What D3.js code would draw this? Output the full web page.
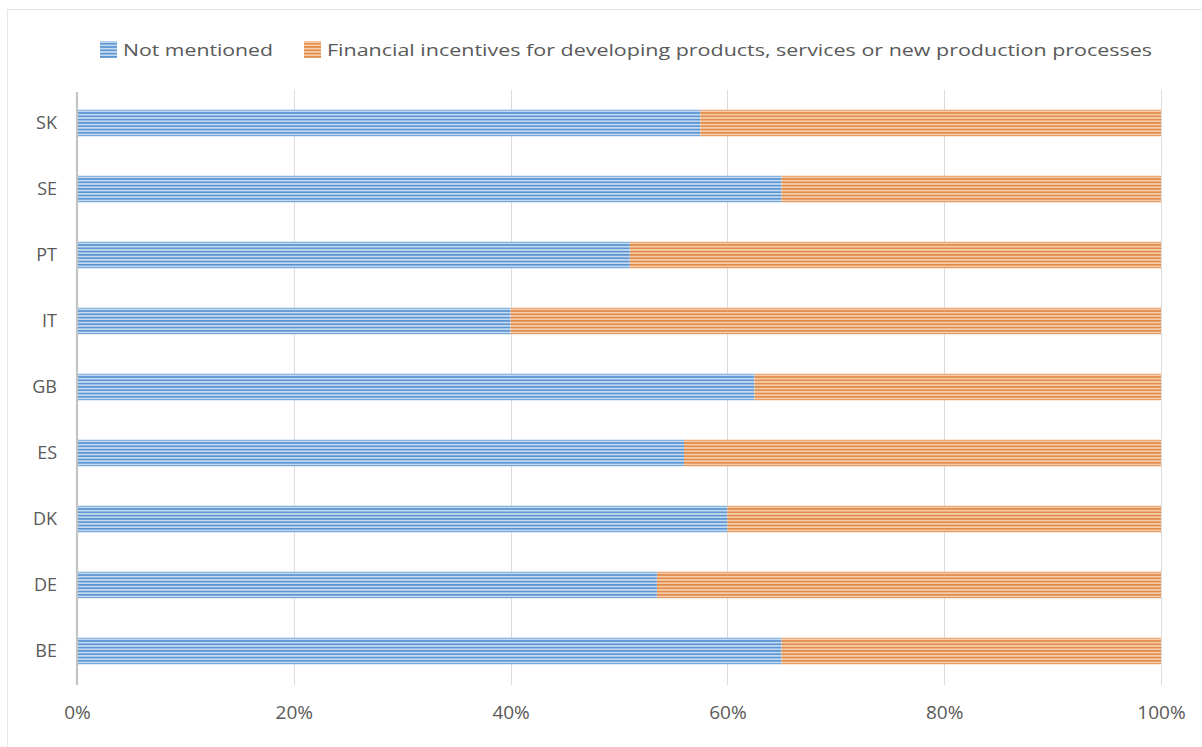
<!DOCTYPE html>
<html>
<head>
<meta charset="utf-8">
<script src="https://cdn.jsdelivr.net/npm/d3@7/dist/d3.min.js"></script>
<style>
  html, body { margin: 0; padding: 0; background: #fff; }
  svg { display: block; font-family: "Open Sans", "Noto Sans", sans-serif; }
</style>
</head>
<body>
<svg id="chart" width="1202" height="747"></svg>
<script>
// Country codes, top to bottom
const categories = ["SK", "SE", "PT", "IT", "GB", "ES", "DK", "DE", "BE"];
// Share of responses (%) per country
const notMentioned = [57.5, 65, 51, 40, 62.5, 56, 60, 53.5, 65];
const financialIncentives = [42.5, 35, 49, 60, 37.5, 44, 40, 46.5, 35];
const seriesNames = ["Not mentioned", "Financial incentives for developing products, services or new production processes"];
const tickValues = [0, 20, 40, 60, 80, 100];

const svg = d3.select("#chart");
const margin = { left: 77, right: 41, top: 90, bottom: 63 };
const W = 1202, H = 747;
const FONT = "'Open Sans', 'Noto Sans', sans-serif";

// Outer chart frame
svg.append("rect").attr("x", 7.5).attr("y", 9.5).attr("width", W).attr("height", H)
  .attr("fill", "#fff").attr("stroke", "#e6e6e6");

// Striped fills
const defs = svg.append("defs");
function stripes(id, light, dark) {
  const p = defs.append("pattern").attr("id", id).attr("patternUnits", "userSpaceOnUse")
    .attr("width", 8).attr("height", 3.3);
  p.append("rect").attr("width", 8).attr("height", 3.3).attr("fill", light);
  p.append("rect").attr("y", 0).attr("width", 8).attr("height", 1.6).attr("fill", dark);
}
stripes("blueStripe", "#c3dbf2", "#5a93d0");
stripes("orangeStripe", "#f7cda8", "#df8a4b");
const fills = ["url(#blueStripe)", "url(#orangeStripe)"];

const x = d3.scaleLinear().domain([0, 100]).range([margin.left, W - margin.right]);
const y = d3.scaleBand().domain(categories).range([margin.top, H - margin.bottom])
  .paddingInner(0.6).paddingOuter(0.3);

// Vertical gridlines
svg.append("g").selectAll("line").data(tickValues.slice(1)).join("line")
  .attr("x1", d => Math.round(x(d)) + 0.5).attr("x2", d => Math.round(x(d)) + 0.5)
  .attr("y1", margin.top).attr("y2", H - margin.bottom + 1)
  .attr("stroke", "#dcdcdc").attr("stroke-width", 1);

// Stacked bars
const rows = categories.map((c, i) => ({ c, a: notMentioned[i], b: financialIncentives[i] }));
const stack = d3.stack().keys(["a", "b"])(rows);
svg.append("g").selectAll("g").data(stack).join("g")
  .attr("fill", (d, i) => fills[i])
  .selectAll("rect").data(d => d).join("rect")
  .attr("x", d => x(d[0]))
  .attr("y", d => y(d.data.c))
  .attr("width", d => x(d[1]) - x(d[0]))
  .attr("height", y.bandwidth());

// Category axis line
svg.append("line")
  .attr("x1", margin.left).attr("x2", margin.left)
  .attr("y1", margin.top + 2).attr("y2", H - margin.bottom + 1)
  .attr("stroke", "#c4c4c4").attr("stroke-width", 2.2);

// X axis labels
const xAxis = d3.axisBottom(x).tickValues(tickValues).tickFormat(d => d + "%").tickSize(0).tickPadding(22);
const gx = svg.append("g").attr("transform", `translate(0,${H - margin.bottom})`).call(xAxis)
  .attr("font-family", FONT).attr("font-size", 19);
gx.select(".domain").remove();
gx.selectAll("text").attr("fill", "#595959");

// Y axis labels
const yAxis = d3.axisLeft(y).tickSize(0).tickPadding(20);
const gy = svg.append("g").attr("transform", `translate(${margin.left},0)`).call(yAxis)
  .attr("font-family", FONT).attr("font-size", 18);
gy.select(".domain").remove();
gy.selectAll("text").attr("fill", "#595959");

// Legend
const legend = svg.append("g").attr("font-family", FONT);
const legendItems = [
  { x: 100, fill: fills[0], name: seriesNames[0], textX: 123, textW: 150 },
  { x: 304, fill: fills[1], name: seriesNames[1], textX: 327, textW: 825 }
];
legendItems.forEach(it => {
  legend.append("rect").attr("x", it.x).attr("y", 41).attr("width", 17).attr("height", 17).attr("fill", it.fill);
  legend.append("text").attr("x", it.textX).attr("y", 56).attr("fill", "#595959")
    .style("font-size", "17px").attr("textLength", it.textW).attr("lengthAdjust", "spacingAndGlyphs")
    .text(it.name);
});
</script>
</body>
</html>
